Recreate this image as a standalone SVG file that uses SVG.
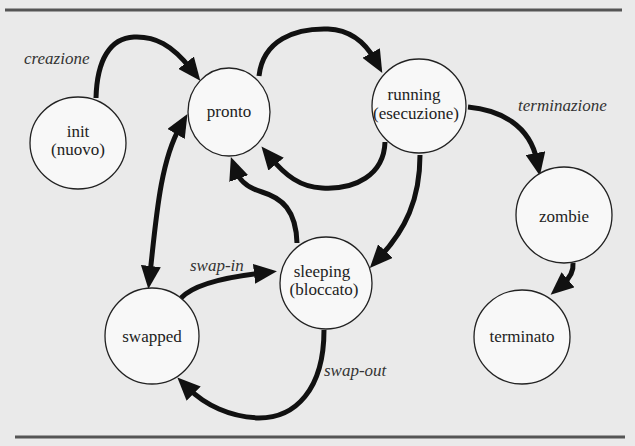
<svg xmlns="http://www.w3.org/2000/svg" width="635" height="446" viewBox="0 0 635 446">
<style>
.node ellipse{fill:#f8f8f8;stroke:#222;stroke-width:1.3}
.node text{font-family:'Liberation Serif','Times New Roman','DejaVu Serif',serif;font-size:17px;fill:#222;text-anchor:middle}
.lbl{font-family:'Liberation Serif','Times New Roman','DejaVu Serif',serif;font-size:17px;font-style:italic;fill:#333}
.edge{fill:none;stroke:#111;stroke-width:5;marker-end:url(#ah)}
.rule{stroke:#555;stroke-width:3}
</style>
<defs>
<marker id="ah" markerUnits="userSpaceOnUse" markerWidth="23" markerHeight="20" refX="8" refY="10" orient="auto-start-reverse">
<path d="M0,0 L23,10 L0,20 z" fill="#111"/>
</marker>
</defs>
<rect width="635" height="446" fill="#eaeaea"/>
<line class="rule" x1="5" y1="10" x2="622" y2="10"/>
<line class="rule" x1="15" y1="437" x2="625" y2="437"/>
<g id="connectors">
<path class="edge" d="M96,98 C97,60 110,38 134,37 C155,36 172,45 191,69"/>
<path class="edge" d="M259,76 C263,40 295,28 328,29 C350,30 365,42 375,60"/>
<path class="edge" d="M385,142 C384,175 355,190 322,188 C300,187 285,175 271,158"/>
<path class="edge" d="M420,155 C420,200 405,230 380,257"/>
<path class="edge" d="M297,243 C296,210 282,198 262,192 C248,188 240,182 236,171"/>
<path class="edge" d="M468,107 C500,110 530,125 537,161"/>
<path class="edge" d="M573,263 C574,272 569,279 562,285"/>
<path class="edge" style="marker-start:url(#ah)" d="M150,274 C156,220 160,162 180,127"/>
<path class="edge" d="M181,298 C196,282 235,276 262,273"/>
<path class="edge" d="M324,330 C324,390 295,418 259,418 C230,417 205,405 188,388"/>
</g>
<g id="labels">
<text class="lbl" x="24" y="64">creazione</text>
<text class="lbl" x="518" y="111">terminazione</text>
<text class="lbl" x="190" y="271">swap-in</text>
<text class="lbl" x="324" y="376">swap-out</text>
</g>
<g id="init" class="node"><ellipse cx="78" cy="143" rx="48" ry="46"/><text x="78" y="137">init</text><text x="78" y="155">(nuovo)</text></g>
<g id="pronto" class="node"><ellipse cx="229" cy="112" rx="41" ry="44"/><text x="229" y="117">pronto</text></g>
<g id="running" class="node"><ellipse cx="419" cy="106" rx="47" ry="47"/><text x="414" y="100">running</text><text x="416" y="119">(esecuzione)</text></g>
<g id="zombie" class="node"><ellipse cx="564" cy="215" rx="48" ry="48"/><text x="564" y="222">zombie</text></g>
<g id="terminato" class="node"><ellipse cx="522" cy="337" rx="48" ry="47"/><text x="522" y="342">terminato</text></g>
<g id="sleeping" class="node"><ellipse cx="326" cy="283" rx="46" ry="46"/><text x="322" y="277">sleeping</text><text x="324" y="295">(bloccato)</text></g>
<g id="swapped" class="node"><ellipse cx="152" cy="336" rx="47" ry="48"/><text x="152" y="342">swapped</text></g>
</svg>
